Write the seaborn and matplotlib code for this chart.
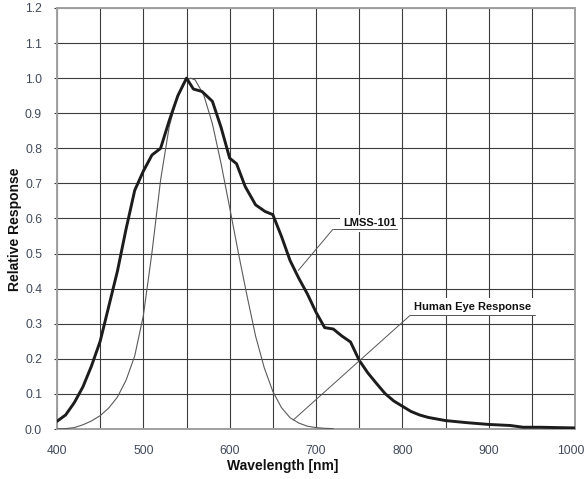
import matplotlib
matplotlib.use("Agg")
import matplotlib.pyplot as plt
import matplotlib.transforms as mtransforms
import seaborn as sns
import pandas as pd

# ---- data ----
lmss_wavelength = [400, 410, 420, 430, 440, 450, 460, 470, 480, 490, 500, 510, 520, 530, 540,
                   550, 558, 568, 580, 590, 600, 608, 618, 630, 641, 650, 660, 670, 680, 690,
                   700, 710, 720, 730, 740, 750, 760, 770, 780, 790, 800, 810, 820, 830, 850,
                   875, 900, 925, 940, 960, 980, 1000]
lmss_response = [0.022, 0.04, 0.075, 0.12, 0.18, 0.25, 0.35, 0.45, 0.57, 0.68, 0.735, 0.781, 0.80, 0.879, 0.95,
                 1.0, 0.969, 0.962, 0.934, 0.86, 0.772, 0.756, 0.691, 0.639, 0.62, 0.611, 0.549, 0.48, 0.43, 0.385,
                 0.333, 0.289, 0.285, 0.265, 0.248, 0.196, 0.16, 0.13, 0.101, 0.08, 0.065, 0.05, 0.04, 0.033, 0.024,
                 0.018, 0.013, 0.01, 0.005, 0.005, 0.004, 0.003]

eye_wavelength = [400, 410, 420, 430, 440, 450, 460, 470, 480, 490, 500, 510, 520, 530, 540, 550, 555,
                  560, 570, 580, 590, 600, 610, 620, 630, 640, 650, 660, 670, 680, 690, 700, 710, 720]
eye_response = [0.0004, 0.0012, 0.004, 0.012, 0.023, 0.038, 0.06, 0.091, 0.139, 0.208, 0.323, 0.503, 0.71,
                0.862, 0.954, 0.995, 1.0, 0.995, 0.952, 0.87, 0.757, 0.631, 0.503, 0.381, 0.265, 0.175,
                0.107, 0.061, 0.032, 0.017, 0.008, 0.004, 0.002, 0.001]

x_ticks = [400, 500, 600, 700, 800, 900, 1000]
y_ticks = [0.0, 0.1, 0.2, 0.3, 0.4, 0.5, 0.6, 0.7, 0.8, 0.9, 1.0, 1.1, 1.2]
x_label = "Wavelength [nm]"
y_label = "Relative Response"
label_lmss = "LMSS-101"
label_eye = "Human Eye Response"

# ---- style ----
sns.set_style("white")
plt.rcParams["font.family"] = ["Liberation Sans", "DejaVu Sans"]

fig = plt.figure(figsize=(5.85, 4.79), dpi=100)
ax = fig.add_axes([57 / 585, 1 - 429 / 479, 518 / 585, 421 / 479])

df_eye = pd.DataFrame({"wl": eye_wavelength, "resp": eye_response})
df_lmss = pd.DataFrame({"wl": lmss_wavelength, "resp": lmss_response})

sns.lineplot(data=df_eye, x="wl", y="resp", ax=ax, color="#5a5a5a", linewidth=0.8, zorder=3)
sns.lineplot(data=df_lmss, x="wl", y="resp", ax=ax, color="#1c1c1c", linewidth=2.1, zorder=4)

ax.set_xlim(400, 1000)
ax.set_ylim(0, 1.2)
ax.set_xticks(x_ticks)
ax.set_xticks(range(400, 1001, 50), minor=True)
ax.set_yticks(y_ticks)
ax.set_xticklabels([str(t) for t in x_ticks])
ax.set_yticklabels([f"{t:.1f}" for t in y_ticks])

ax.grid(True, which="both", axis="x", color="#3c3c3c", linewidth=0.8)
ax.grid(True, which="major", axis="y", color="#3c3c3c", linewidth=0.8)
ax.set_axisbelow(True)

for s in ax.spines.values():
    s.set_color("#a0a0a0")
    s.set_linewidth(1.4)

tick_color = "#404a5a"
ax.tick_params(axis="y", which="major", length=2.5, width=0.8, color="#3c3c3c",
               pad=8.3, labelsize=8.7, labelcolor=tick_color, left=True)
ax.tick_params(axis="x", which="both", length=0, pad=11.5, labelsize=8.7, labelcolor=tick_color)

# keep the last x tick label ("1000") inside the figure, as in the reference
last_lbl = ax.get_xticklabels()[-1]
last_lbl.set_transform(last_lbl.get_transform() +
                       mtransforms.ScaledTranslation(-4 / 100, 0, fig.dpi_scale_trans))

ax.set_xlabel(x_label, fontsize=10, fontweight="bold", color="#111111")
ax.set_ylabel(y_label, fontsize=10, fontweight="bold", color="#111111")
ax.xaxis.set_label_coords(0.435, -0.071)
ax.yaxis.set_label_coords(-0.068, 0.475)

# ---- annotations ----
ann_color = "#555555"
# LMSS-101
ax.text(762.5, 0.587, label_lmss, ha="center", va="center", fontsize=8, fontweight="bold",
        color="#111111", zorder=5,
        bbox=dict(facecolor="white", edgecolor="none", pad=2.5))
ax.plot([719.5, 794], [0.569, 0.569], color=ann_color, linewidth=0.7, zorder=6)
ax.annotate("", xy=(679.5, 0.452), xytext=(719.5, 0.569),
            arrowprops=dict(arrowstyle="-", color=ann_color, linewidth=0.7, shrinkA=0, shrinkB=0),
            zorder=6)
# Human Eye Response
ax.text(881.5, 0.348, label_eye, ha="center", va="center", fontsize=8, fontweight="bold",
        color="#111111", zorder=5,
        bbox=dict(facecolor="white", edgecolor="none", pad=2.5))
ax.plot([809, 954], [0.324, 0.324], color=ann_color, linewidth=0.7, zorder=6)
ax.annotate("", xy=(673.8, 0.026), xytext=(809, 0.324),
            arrowprops=dict(arrowstyle="-", color=ann_color, linewidth=0.7, shrinkA=0, shrinkB=0),
            zorder=6)

fig.savefig("out.png", dpi=100)
